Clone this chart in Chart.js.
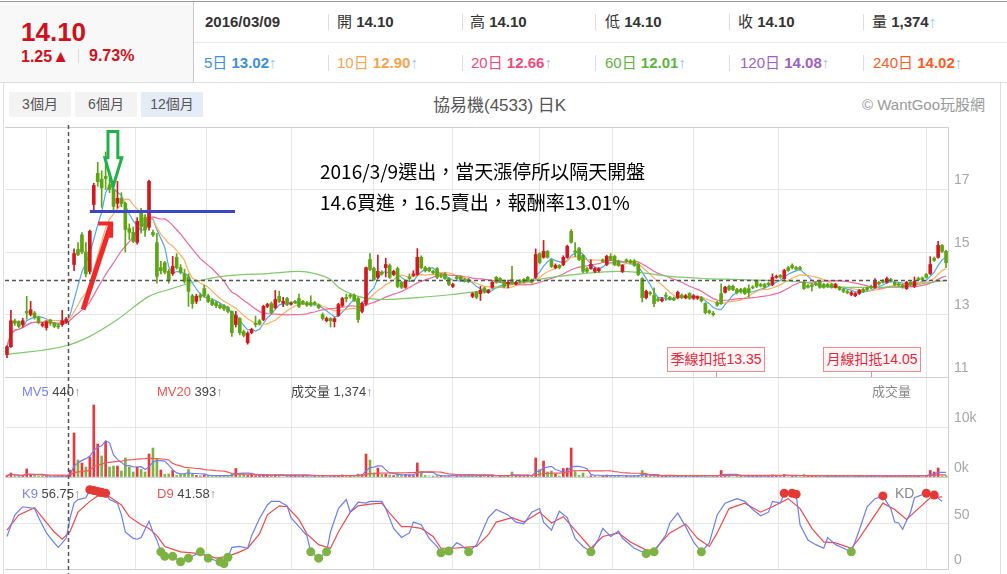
<!DOCTYPE html>
<html>
<head>
<meta charset="utf-8">
<script src="https://cdn.jsdelivr.net/npm/chart.js@4.4.1/dist/chart.umd.min.js"></script>
<style>
body{margin:0;width:1007px;height:574px;overflow:hidden;background:#fff;position:relative;font-family:Arial,"Liberation Sans","Noto Sans CJK TC",sans-serif}
.a{position:absolute;white-space:nowrap;line-height:1}
.r1{top:14px;font-size:15px;color:#333}
.r2{top:55px;font-size:15px}
.sep{position:absolute;width:0;border-left:1px solid #ddd}
.btn{position:absolute;top:92px;width:62px;height:25px;line-height:25px;text-align:center;font-size:14px;color:#555;background:#f3f3f3}
.up{color:#8ec9ee}
.lg{font-size:13px;color:#444}
.lg i{font-style:normal;color:#9a7fb5}
.note{font-family:"Noto Sans CJK TC",sans-serif;font-size:19px;color:#000}
.ded{position:absolute;top:347px;width:96px;height:23px;line-height:23px;border:1px solid #e98a96;background:#fff5f5;color:#e0283c;font-size:14px;text-align:center}
.tick{position:absolute;top:371px;height:6px;border-left:1px solid #e98a96}
</style>
</head>
<body>
<!-- header -->
<div class="a" style="left:0;top:1px;width:1007px;border-top:1px solid #999"></div>
<div class="a" style="left:0;top:2px;width:193px;height:80px;background:#f8f8f8;border-right:1px solid #c8c8c8"></div>
<div class="a" style="left:194px;top:42px;width:813px;border-top:1px solid #e8e8e8"></div>
<div class="a" style="left:0;top:82px;width:1007px;border-top:1px solid #ddd"></div>
<div class="a" style="left:21px;top:19px;font-size:26px;font-weight:bold;color:#d0101a">14.10</div>
<div class="a" style="left:21px;top:48px;font-size:16px;font-weight:bold;color:#d0101a">1.25<span style="font-size:17px">▲</span></div>
<div class="sep" style="left:78px;top:49px;height:14px"></div>
<div class="a" style="left:89px;top:48px;font-size:16px;font-weight:bold;color:#d0101a">9.73%</div>

<div class="a r1" style="left:205px;font-weight:bold">2016/03/09</div>
<div class="a r1" style="left:337px">開 <b>14.10</b></div>
<div class="a r1" style="left:470px">高 <b>14.10</b></div>
<div class="a r1" style="left:605px">低 <b>14.10</b></div>
<div class="a r1" style="left:738px">收 <b>14.10</b></div>
<div class="a r1" style="left:872px">量 <b>1,374</b><span class="up">↑</span></div>

<div class="a r2" style="left:204px;color:#3c8ee0">5日 <b>13.02</b><span class="up">↑</span></div>
<div class="a r2" style="left:337px;color:#f7a24e">10日 <b>12.90</b><span class="up">↑</span></div>
<div class="a r2" style="left:471px;color:#ee4a7a">20日 <b>12.66</b><span class="up">↑</span></div>
<div class="a r2" style="left:605px;color:#5cb53c">60日 <b>12.01</b><span class="up">↑</span></div>
<div class="a r2" style="left:740px;color:#9b5fc8">120日 <b>14.08</b><span class="up">↑</span></div>
<div class="a r2" style="left:873px;color:#ff5a1f">240日 <b>14.02</b><span class="up">↑</span></div>

<div class="sep" style="left:328px;top:14px;height:16px"></div>
<div class="sep" style="left:462px;top:14px;height:16px"></div>
<div class="sep" style="left:595px;top:14px;height:16px"></div>
<div class="sep" style="left:729px;top:14px;height:16px"></div>
<div class="sep" style="left:863px;top:14px;height:16px"></div>
<div class="sep" style="left:328px;top:55px;height:16px"></div>
<div class="sep" style="left:462px;top:55px;height:16px"></div>
<div class="sep" style="left:595px;top:55px;height:16px"></div>
<div class="sep" style="left:729px;top:55px;height:16px"></div>
<div class="sep" style="left:863px;top:55px;height:16px"></div>

<!-- chart box -->
<div class="a" style="left:3px;top:82px;height:492px;border-left:1px solid #ddd"></div>
<div class="a" style="left:1000px;top:82px;height:492px;border-left:1px solid #ddd"></div>
<div class="btn" style="left:9px">3個月</div>
<div class="btn" style="left:75px">6個月</div>
<div class="btn" style="left:141px;background:#e3ecf7">12個月</div>
<div class="a" style="left:433px;top:97px;font-size:17px;color:#555">協易機(4533) 日K</div>
<div class="a" style="left:862px;top:97px;font-size:15px;color:#999">© WantGoo玩股網</div>

<div style="position:absolute;left:0;top:122px;width:1001px;height:452px">
  <canvas id="kChart" width="1001" height="452"></canvas>
</div>

<!-- overlays -->
<div class="a note" style="left:320px;top:161px">2016/3/9選出，當天漲停所以隔天開盤</div>
<div class="a note" style="left:320px;top:192px">14.6買進，16.5賣出，報酬率13.01%</div>

<div class="ded" style="left:667px">季線扣抵13.35</div>
<div class="tick" style="left:716px"></div>
<div class="ded" style="left:823px">月線扣抵14.05</div>
<div class="tick" style="left:871px"></div>

<div class="a lg" style="left:22px;top:385px"><span style="color:#7a82f0">MV5</span> 440<i>↑</i></div>
<div class="a lg" style="left:157px;top:385px"><span style="color:#ef5350">MV20</span> 393<i>↑</i></div>
<div class="a lg" style="left:291px;top:385px">成交量 1,374<i>↑</i></div>
<div class="a lg" style="left:872px;top:385px;color:#888">成交量</div>
<div class="a lg" style="left:22px;top:487px"><span style="color:#7a82f0">K9</span> 56.75<i>↑</i></div>
<div class="a lg" style="left:157px;top:487px"><span style="color:#ef5350">D9</span> 41.58<i>↑</i></div>
<div class="a" style="left:895px;top:486px;font-size:14px;color:#888">KD</div>

<script>
// daily candles, oldest first
const opens = [
  11.72,11.97,12.80,12.78,12.68,13.10,13.00,13.05,12.90,12.65,
  12.58,12.82,12.72,12.64,12.68,12.75,14.10,14.60,15.08,15.55,
  15.00,14.38,16.52,17.52,17.33,17.42,17.15,17.00,16.56,16.72,
  16.56,15.75,15.63,15.31,16.30,16.10,15.79,15.63,15.30,14.50,
  14.66,14.38,14.31,14.83,14.50,14.30,14.20,13.60,13.42,13.62,
  13.83,13.60,13.45,13.38,13.30,13.28,13.22,13.10,12.68,12.87,
  12.45,12.10,12.42,12.72,12.80,12.84,13.26,13.35,13.22,13.58,
  13.36,13.51,13.33,13.42,13.51,13.42,13.38,13.38,13.38,13.30,
  13.00,12.80,12.87,12.77,12.97,13.29,13.55,13.62,13.62,13.51,
  13.10,13.35,14.76,14.47,14.19,14.35,14.50,14.57,14.28,14.47,
  14.03,13.87,14.20,14.25,14.28,14.83,14.50,14.48,14.38,14.47,
  14.25,14.30,14.15,13.90,14.20,14.20,14.12,14.12,13.58,13.71,
  13.67,13.85,13.71,13.87,14.19,14.15,14.06,13.98,14.12,13.98,
  14.08,14.12,14.19,14.10,14.19,14.95,14.83,15.02,14.73,14.50,
  14.57,14.60,14.83,15.66,15.02,15.11,14.89,14.47,14.47,14.38,
  14.40,14.75,14.60,14.86,14.86,14.70,14.38,14.75,14.72,14.72,
  14.60,14.15,13.54,13.70,13.61,13.50,13.44,13.62,13.55,13.52,
  13.54,13.62,13.54,13.67,13.52,13.52,13.54,13.35,13.12,13.04,
  13.38,13.67,13.71,13.90,13.90,13.80,13.80,13.83,13.83,13.88,
  14.06,13.96,13.96,14.00,13.96,14.19,14.25,14.15,14.50,14.57,
  14.50,14.50,14.03,13.92,13.94,14.00,14.06,13.96,13.96,13.96,
  13.87,13.87,13.80,13.74,13.64,13.60,13.67,13.80,13.85,13.90,
  13.87,14.03,14.08,14.03,14.12,14.03,13.98,13.94,13.83,14.03,
  13.90,14.15,14.17,14.28,14.31,14.80,14.83,15.21,15.02
];
const closes = [
  11.97,12.80,12.72,12.62,12.80,13.05,13.15,12.90,12.75,12.70,
  12.77,12.72,12.62,12.60,12.80,12.85,14.10,14.95,14.92,15.00,
  14.30,15.66,17.13,17.25,17.05,17.35,17.00,16.46,16.72,16.55,
  15.72,15.63,15.34,15.98,15.82,15.72,17.26,15.55,14.22,14.40,
  14.35,14.08,14.54,14.50,14.35,14.06,13.74,13.35,13.58,13.55,
  13.61,13.42,13.32,13.28,13.22,13.18,13.10,12.42,12.97,12.42,
  12.33,12.40,12.52,12.68,12.70,13.26,13.32,13.06,13.48,13.42,
  13.42,13.32,13.36,13.38,13.26,13.35,13.30,13.30,13.34,13.22,
  12.87,12.87,12.80,12.87,13.32,13.51,13.50,13.58,13.45,12.84,
  13.35,14.50,14.44,14.12,14.38,14.30,14.60,14.19,14.38,13.90,
  13.87,14.06,14.15,14.30,14.83,14.50,14.40,14.40,14.33,14.19,
  14.22,14.15,13.96,13.96,14.15,14.12,14.08,14.05,13.67,13.55,
  13.77,13.71,13.77,14.03,14.03,14.06,13.90,14.03,14.00,14.03,
  14.04,14.06,14.09,14.04,14.92,14.66,15.02,14.83,14.54,14.57,
  14.50,14.83,15.18,15.31,15.00,14.76,14.38,14.38,14.60,14.47,
  14.47,14.70,14.86,14.76,14.60,14.57,14.57,14.70,14.66,14.57,
  14.28,13.54,13.74,13.66,13.35,13.45,13.50,13.58,13.50,13.47,
  13.71,13.54,13.60,13.52,13.60,13.57,13.44,13.06,13.06,13.00,
  13.30,13.35,13.87,13.80,13.80,13.70,13.72,13.67,13.70,13.85,
  13.90,13.92,13.88,13.96,14.19,14.22,14.20,14.41,14.41,14.50,
  14.45,14.45,13.83,13.87,13.90,13.96,13.87,13.87,13.90,13.87,
  13.96,13.80,13.74,13.70,13.70,13.67,13.77,13.74,13.80,13.85,
  14.06,13.98,14.03,14.15,14.08,13.96,13.94,13.88,14.03,13.96,
  14.06,14.12,14.12,14.19,14.60,14.73,15.21,15.02,14.66
];
const highs = [
  12.00,13.13,12.85,12.80,12.88,13.58,13.42,13.10,12.95,12.75,
  12.80,12.85,12.75,12.70,13.13,12.90,14.10,15.10,15.30,15.62,
  15.30,15.70,17.20,17.87,17.60,18.20,17.50,17.20,17.26,16.90,
  16.60,15.90,15.80,16.10,16.40,16.20,17.30,15.70,15.60,14.70,
  14.70,14.45,14.86,14.95,14.60,14.45,14.30,13.65,13.65,13.68,
  13.95,13.65,13.50,13.42,13.35,13.32,13.26,13.12,13.10,12.90,
  12.50,12.45,12.56,12.95,12.84,13.30,13.36,13.40,13.77,13.75,
  13.55,13.55,13.40,13.45,13.65,13.45,13.42,13.60,13.42,13.34,
  13.05,12.92,12.90,12.90,13.36,13.55,13.65,13.66,13.66,13.55,
  13.40,14.52,14.95,14.52,14.90,14.40,14.80,14.62,14.42,14.52,
  14.06,14.10,14.30,14.40,15.11,14.88,14.54,14.52,14.42,14.50,
  14.30,14.34,14.18,14.00,14.24,14.24,14.16,14.16,13.70,13.74,
  13.90,13.88,13.80,14.06,14.22,14.18,14.10,14.10,14.54,14.06,
  14.12,14.15,14.22,14.14,15.10,14.98,15.37,15.05,14.76,14.62,
  14.60,14.88,15.22,15.72,15.30,15.15,14.92,14.50,14.75,14.50,
  14.50,14.78,14.90,14.95,14.90,14.74,14.60,14.78,14.76,14.76,
  14.64,14.18,13.78,13.74,13.85,13.54,13.54,13.70,13.58,13.56,
  13.75,13.66,13.64,13.70,13.64,13.60,13.58,13.38,13.15,13.10,
  13.42,13.98,13.90,13.94,13.94,13.84,13.84,13.86,13.95,13.92,
  14.10,14.00,14.00,14.04,14.30,14.26,14.28,14.45,14.54,14.62,
  14.54,14.54,14.06,13.96,13.98,14.04,14.10,14.00,14.00,14.00,
  14.00,13.90,13.84,13.78,13.74,13.70,13.80,13.84,13.88,13.94,
  14.15,14.06,14.12,14.20,14.16,14.06,14.02,13.98,14.06,14.06,
  14.20,14.20,14.20,14.32,14.85,14.84,15.34,15.24,15.05
];
const lows = [
  11.62,11.95,12.65,12.58,12.60,12.85,12.95,12.85,12.70,12.60,
  12.50,12.65,12.58,12.55,12.62,12.72,14.10,14.40,14.88,14.95,
  14.20,14.30,16.30,17.10,16.43,17.00,16.90,16.30,16.40,16.45,
  15.00,15.40,15.30,15.25,15.60,15.50,15.70,15.50,14.00,14.30,
  14.30,14.00,14.25,14.45,14.30,14.00,13.26,13.20,13.35,13.45,
  13.55,13.38,13.28,13.22,13.18,13.12,13.05,12.30,12.60,12.35,
  12.28,12.05,12.38,12.60,12.66,12.80,13.22,13.02,13.18,13.38,
  13.25,13.28,13.30,13.35,13.22,13.32,13.26,13.26,13.30,13.18,
  12.82,12.76,12.60,12.60,12.94,13.25,13.40,13.52,13.42,12.75,
  13.05,13.30,14.40,14.08,14.15,14.26,14.20,14.15,14.24,13.86,
  13.83,13.84,14.05,14.22,14.25,14.46,14.36,14.36,14.30,14.15,
  14.18,14.12,13.92,13.86,14.12,14.08,14.04,14.02,13.54,13.50,
  13.45,13.68,13.68,13.84,14.00,14.02,13.86,13.85,13.96,13.95,
  14.00,14.02,14.06,14.00,14.15,14.62,14.80,14.80,14.50,14.46,
  14.46,14.56,14.80,15.28,14.85,14.72,14.34,14.34,14.44,14.34,
  14.36,14.66,14.56,14.72,14.56,14.54,14.34,14.66,14.62,14.54,
  14.24,13.40,13.50,13.62,13.25,13.42,13.40,13.45,13.46,13.44,
  13.50,13.50,13.50,13.48,13.48,13.48,13.40,13.02,13.02,12.95,
  13.26,13.32,13.68,13.76,13.76,13.66,13.68,13.64,13.55,13.82,
  13.86,13.88,13.84,13.92,13.92,14.16,14.16,14.12,14.38,14.46,
  14.42,14.42,13.80,13.84,13.75,13.92,13.84,13.84,13.86,13.84,
  13.84,13.77,13.70,13.66,13.60,13.57,13.64,13.70,13.76,13.82,
  13.84,13.94,14.00,14.00,14.04,13.92,13.90,13.84,13.80,13.92,
  13.86,14.08,14.08,14.16,14.28,14.70,14.80,14.98,14.50
];
const volumes = [
  300,800,200,150,200,1600,400,300,200,250,
  200,150,200,150,300,250,1374,8800,3400,2800,
  2000,4000,14400,6600,4200,7000,2000,2200,2200,1200,
  3800,2000,1000,2000,1500,1000,4600,5800,3600,1400,
  500,600,1300,300,500,600,1500,600,300,250,
  400,300,250,200,300,250,300,600,1700,700,
  500,300,400,250,300,500,400,300,350,300,
  250,200,300,250,200,300,250,200,300,250,
  200,300,250,300,250,400,300,250,300,600,
  500,4600,3400,800,1800,500,600,400,300,700,
  300,500,400,300,2800,1000,300,300,200,250,
  300,200,250,300,200,250,200,300,250,300,
  400,300,250,200,300,250,300,200,1000,300,
  250,200,300,300,3800,1500,3200,1000,1200,600,
  200,1700,1800,5800,1100,300,800,200,250,200,
  300,250,400,250,200,300,200,250,200,250,
  300,1300,300,250,200,250,200,300,250,200,
  250,200,300,250,200,250,300,200,250,200,
  300,1300,500,250,200,300,250,200,250,200,
  300,250,200,250,400,250,200,500,250,200,
  250,300,500,200,250,200,250,200,250,300,
  200,250,200,250,200,300,250,200,250,300,
  200,250,200,250,200,300,250,200,250,300,
  250,200,300,250,1300,1000,1800,200,250
];

// 60-day average
const ma60Day = [0,15,21,28,36,41,50,57,66,74,78,82,84,89,96,104,113,121,129,138,146,155,160,168,177,185,193,202,210,219,227,232,238];
const ma60Val = [11.72,12.0,12.3,12.84,13.58,13.8,14.12,14.25,14.31,14.38,14.31,14.12,13.87,13.58,13.48,13.54,13.64,13.77,13.99,14.19,14.31,14.38,14.35,14.22,14.15,14.12,14.09,14.03,13.87,13.87,13.9,13.99,14.09];

// KD
const kDay = [0,2,4,7,8,10,12,13,15,16,17,18,20,21,22,23,24,25,26,28,29,30,32,33,34,36,37,38,39,40,42,44,46,49,51,54,55,56,57,59,61,62,64,66,67,69,71,72,74,76,77,79,81,82,84,86,87,89,91,92,95,96,98,100,102,103,105,107,109,110,112,114,115,117,119,122,124,127,129,131,133,135,136,138,140,142,144,146,148,150,151,153,155,156,159,162,164,167,168,170,172,174,176,178,180,182,185,187,189,191,193,194,196,197,199,200,201,203,205,207,208,210,212,214,216,218,220,222,224,225,226,227,229,230,233,235,237];
const kVal = [36,60,69,67,57,40,29,24,34,56.75,73,77,79,88,87,86,85,84,77,73,60,41,34,33,35,53,41,32,19,14,14,8,12,19,12,8,6,13,24,25,23,37,56,71,75,75,70,57,47,37,19,12,19,41,67,77,63,74,73,75,75,67,45,35,40,52,49,34,25,18,20,29,27,19,27,57,66,60,52,50,63,67,52,43,64,57,34,25,19,34,45,36,42,34,23,17,19,38,51,62,47,30,19,29,60,73,78,75,66,59,63,75,73,84,84,83,49,32,27,23,35,27,23,19,43,69,78,81,67,52,51,44,63,79,84,82,75];
const dDay = [0,3,7,9,12,14,16,18,21,23,26,29,31,34,36,38,40,44,49,53,56,59,61,64,66,69,71,74,76,79,82,84,87,89,92,95,97,100,102,105,108,110,113,116,119,122,124,128,131,135,138,141,145,148,151,155,158,162,164,168,172,175,178,180,183,187,191,194,198,201,204,207,210,214,216,220,222,225,228,230,234,237];
const dVal = [43,60,68,57,41,33,41.58,63,75,81,80,71,58,49,45,37,25,19,17,12,14,19,23,39,60,70,69,55,39,27,23,41,63,70,72,73,62,47,47,45,36,23,23,24,25,38,52,57,52,63,51,58,38,23,36,40,30,21,21,40,50,34,25,40,67,73,63,69,78,67,45,30,29,23,34,60,73,66,55,63,79,80];

const monthTicks = [10, 32.5, 50.5, 72, 93, 113, 135, 153.5, 174, 195.5, 233];
const priceTicks = [11, 13, 15, 17];
const volTicks = [0, 10000];
const kdTicks = [0, 50];
const pickDay = 16;

// hand-drawn marks from the picture (day, price)
const blueLineDays = [21, 57.8];
const blueLinePrice = 16.3;
const redArrowDays = [19.3, 26.4, 23.1];
const redArrowPrices = [13.16, 15.91, 15.46];
const greenArrowDays = [25.6, 28.1, 29.1, 26.9, 24.8];
const greenArrowPrices = [18.86, 18.02, 17.1];

const RED = '#d1191f', GREEN = '#5ea513';
const days = closes.map((_, i) => i);
const isUp = i => closes[i] > opens[i] || (closes[i] === opens[i] && i > 0 && closes[i] > closes[i - 1]);
const candleCol = days.map(i => isUp(i) ? RED : GREEN);
const volCol = days.map(i => {
  if (i === 0) return '#e8383d';
  if (closes[i] > closes[i - 1]) return '#e8383d';
  if (closes[i] < closes[i - 1]) return '#7bb243';
  return '#cccccc';
});

const pts = (xs, ys) => xs.map((d, i) => ({ x: d, y: ys[i] }));
const movingAvg = (src, n) => src.map((_, i) => {
  const w = src.slice(Math.max(0, i - n + 1), i + 1);
  return w.reduce((a, b) => a + b, 0) / w.length;
});

const lineDs = (label, data, color, axis, extra) => Object.assign({
  type: 'line', label, data, borderColor: color, borderWidth: 1.2,
  pointRadius: 0, tension: 0, yAxisID: axis, order: 5
}, extra || {});

Chart.defaults.font.family = 'Arial, "Liberation Sans", sans-serif';

const tickStyle = { color: '#a6a6a6', font: { size: 14 }, padding: 6, labelOffset: -9, autoSkip: false };
const gridCol = edge => ctx => (ctx.tick && edge.includes(ctx.tick.value)) ? '#cfcfcf' : '#e6e6e6';
// fixed axis width, and no extra room for half labels at the panel ends
const fitAxis = s => { s.width = 53; s.paddingTop = 0; s.paddingBottom = 0; };

const marks = {
  id: 'marks',
  afterDatasetsDraw(chart) {
    const { ctx, chartArea, scales } = chart;
    const px = d => scales.x.getPixelForValue(d);
    const py = p => scales.y.getPixelForValue(p);
    ctx.save();

    ctx.strokeStyle = '#3b46c6';
    ctx.lineWidth = 3;
    ctx.beginPath();
    ctx.moveTo(px(blueLineDays[0]), py(blueLinePrice));
    ctx.lineTo(px(blueLineDays[1]), py(blueLinePrice));
    ctx.stroke();

    ctx.strokeStyle = '#f02a2a';
    ctx.lineWidth = 5;
    ctx.beginPath();
    ctx.moveTo(px(redArrowDays[0]), py(redArrowPrices[0]));
    ctx.lineTo(px(redArrowDays[1]), py(redArrowPrices[1]));
    ctx.stroke();
    ctx.lineWidth = 4;
    ctx.beginPath();
    ctx.moveTo(px(redArrowDays[2]), py(redArrowPrices[1]));
    ctx.lineTo(px(redArrowDays[1]), py(redArrowPrices[1]));
    ctx.lineTo(px(redArrowDays[1]), py(redArrowPrices[2]));
    ctx.stroke();

    const g = greenArrowDays, gp = greenArrowPrices;
    ctx.strokeStyle = '#22b04a';
    ctx.lineWidth = 3;
    ctx.beginPath();
    ctx.moveTo(px(g[0]), py(gp[0]));
    ctx.lineTo(px(g[1]), py(gp[0]));
    ctx.lineTo(px(g[1]), py(gp[1]));
    ctx.lineTo(px(g[2]), py(gp[1]));
    ctx.lineTo(px(g[3]), py(gp[2]));
    ctx.lineTo(px(g[4]), py(gp[1]));
    ctx.lineTo(px(g[0]), py(gp[1]));
    ctx.closePath();
    ctx.stroke();

    // crosshair on the picked day
    ctx.setLineDash([4, 3]);
    ctx.strokeStyle = '#555';
    ctx.lineWidth = 1.5;
    const cx = Math.round(px(pickDay)) - 1.5;
    ctx.beginPath();
    ctx.moveTo(cx, 3);
    ctx.lineTo(cx, chart.height);
    ctx.stroke();
    const cy = Math.round(py(closes[pickDay])) + 0.5;
    ctx.beginPath();
    ctx.moveTo(chartArea.left, cy);
    ctx.lineTo(chartArea.right, cy);
    ctx.stroke();
    ctx.restore();
  }
};

new Chart(document.getElementById('kChart'), {
  type: 'bar',
  data: {
    datasets: [
      { type: 'bar', label: 'wick', data: days.map(i => ({ x: i, y: [lows[i], highs[i]] })),
        backgroundColor: candleCol, barThickness: 1, grouped: false, yAxisID: 'y', order: 2 },
      { type: 'bar', label: 'body', data: days.map(i => ({ x: i, y: [opens[i], closes[i]] })),
        backgroundColor: candleCol, barThickness: 3, minBarLength: 1, grouped: false, yAxisID: 'y', order: 1 },
      lineDs('MA60', pts(ma60Day, ma60Val), '#7dc96b', 'y', { cubicInterpolationMode: 'monotone' }),
      lineDs('MA20', pts(days, movingAvg(closes, 20)), '#f0679a', 'y'),
      lineDs('MA10', pts(days, movingAvg(closes, 10)), '#ffae62', 'y'),
      lineDs('MA5', pts(days, movingAvg(closes, 5)), '#4ea7ef', 'y'),
      { type: 'bar', label: 'vol', data: pts(days, volumes), backgroundColor: volCol,
        barThickness: 2, grouped: false, yAxisID: 'yv', order: 6 },
      lineDs('MV20', pts(days, movingAvg(volumes, 20)), '#f05a5a', 'yv'),
      lineDs('MV5', pts(days, movingAvg(volumes, 5)), '#6f7cf7', 'yv'),
      lineDs('D9', pts(dDay, dVal), '#f24848', 'ykd', { order: 4 }),
      lineDs('K9', pts(kDay, kVal), '#6a7df5', 'ykd', {
        order: 3,
        pointRadius: c => (c.raw && (c.raw.y >= 80 || c.raw.y <= 20)) ? 4.5 : 0,
        pointBorderWidth: 0,
        pointBackgroundColor: c => (c.raw && c.raw.y >= 80) ? '#e53935' : '#7cb342'
      })
    ]
  },
  options: {
    responsive: false,
    animation: false,
    layout: { padding: { left: 5, right: 0, top: 5, bottom: 5 } },
    plugins: { legend: { display: false }, tooltip: { enabled: false } },
    scales: {
      x: {
        type: 'linear', min: -0.5, max: closes.length - 0.5, offset: false,
        grid: { offset: false, color: '#e6e6e6', drawTicks: false },
        border: { display: false }, ticks: { display: false },
        afterBuildTicks: s => { s.ticks = monthTicks.map(v => ({ value: v })); }
      },
      y: {
        position: 'right', stack: 'k', stackWeight: 250, min: 11, max: 19,
        afterBuildTicks: s => { s.ticks = priceTicks.concat([19]).map(v => ({ value: v })); },
        ticks: Object.assign({ callback: v => priceTicks.includes(v) ? String(v) : '' }, tickStyle),
        grid: { drawTicks: false, color: gridCol([11, 19]) },
        border: { color: '#cfcfcf' },
        afterFit: fitAxis
      },
      yv: {
        position: 'right', stack: 'k', stackWeight: 100, min: 0, max: 20000,
        afterBuildTicks: s => { s.ticks = volTicks.concat([20000]).map(v => ({ value: v })); },
        ticks: Object.assign({ callback: v => volTicks.includes(v) ? (v / 1000) + 'k' : '' }, tickStyle),
        grid: { drawTicks: false, color: gridCol([0, 20000]) },
        border: { color: '#cfcfcf' },
        afterFit: fitAxis
      },
      ykd: {
        position: 'right', stack: 'k', stackWeight: 92, min: 0, max: 102,
        afterBuildTicks: s => { s.ticks = kdTicks.concat([102]).map(v => ({ value: v })); },
        ticks: Object.assign({ callback: v => kdTicks.includes(v) ? String(v) : '' }, tickStyle),
        grid: { drawTicks: false, color: gridCol([0, 102]) },
        border: { color: '#cfcfcf' },
        afterFit: fitAxis
      }
    }
  },
  plugins: [marks]
});
</script>
</body>
</html>
